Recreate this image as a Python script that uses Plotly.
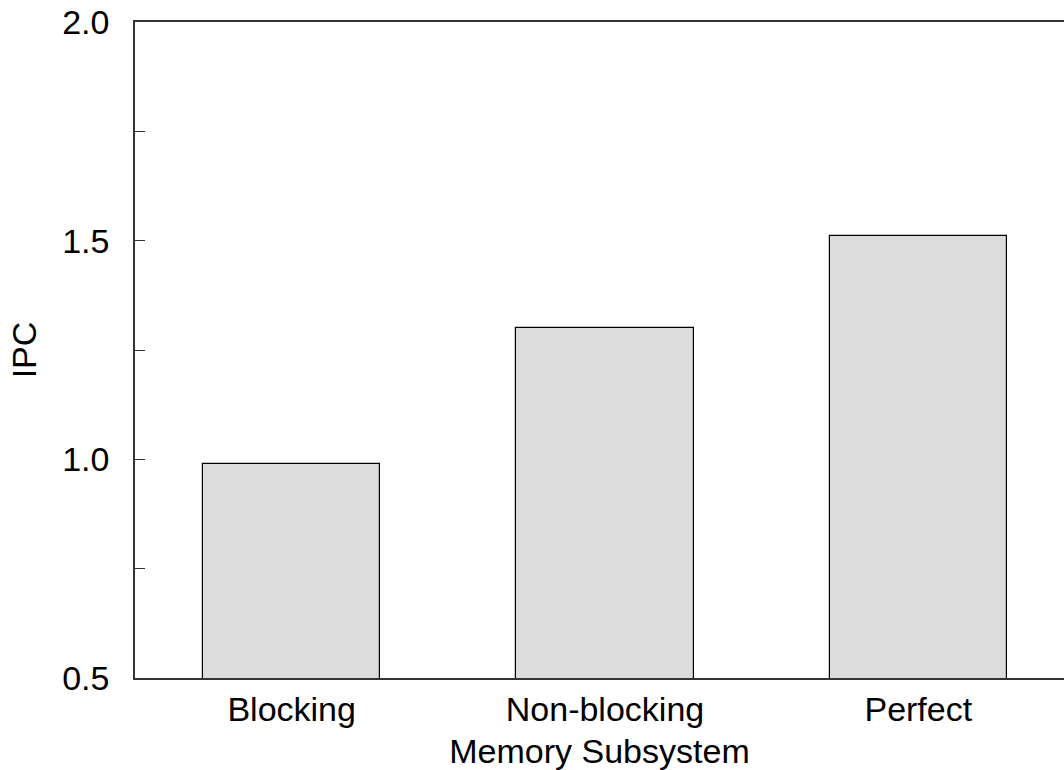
import plotly.graph_objects as go

# IPC for each memory subsystem configuration
categories = ["Blocking", "Non-blocking", "Perfect"]
ipc = [0.99, 1.30, 1.51]
y_ticks = [0.5, 1.0, 1.5, 2.0]
y_tick_labels = ["0.5", "1.0", "1.5", "2.0"]

FONT = "Liberation Sans, Arial, sans-serif"
SIZE = 34

fig = go.Figure(
    go.Bar(
        x=list(range(len(categories))),
        y=ipc,
        width=0.565,
        marker=dict(color="#dcdcdc", line=dict(color="black", width=1.2)),
        hoverinfo="x+y",
    )
)

fig.update_layout(
    width=1064,
    height=770,
    margin=dict(l=135, r=0, t=22, b=92),
    paper_bgcolor="white",
    plot_bgcolor="white",
    showlegend=False,
    font=dict(family=FONT, size=SIZE, color="black"),
    bargap=0,
)

fig.update_xaxes(
    range=[-0.5, 2.465],
    tickmode="array",
    tickvals=list(range(len(categories))),
    ticktext=categories,
    ticks="",
    showgrid=False,
    zeroline=False,
    showline=True,
    linecolor="#333333",
    linewidth=1.5,
    mirror=True,
    ticklabelstandoff=0,
    title=dict(text="Memory Subsystem", standoff=14, font=dict(size=SIZE)),
    tickfont=dict(size=SIZE),
)

fig.update_yaxes(
    range=[0.5, 2.0],
    tickmode="array",
    tickvals=y_ticks,
    ticktext=y_tick_labels,
    ticks="inside",
    ticklen=10,
    tickwidth=1,
    tickcolor="#333333",
    minor=dict(ticks="inside", ticklen=10, tickwidth=1, tickcolor="#333333", dtick=0.25, tick0=0.5),
    showgrid=False,
    zeroline=False,
    showline=True,
    linecolor="#333333",
    linewidth=1.5,
    ticklabelstandoff=17,
    title=dict(text="IPC", standoff=15, font=dict(size=SIZE)),
    tickfont=dict(size=SIZE),
)

fig.write_html("out.html")
